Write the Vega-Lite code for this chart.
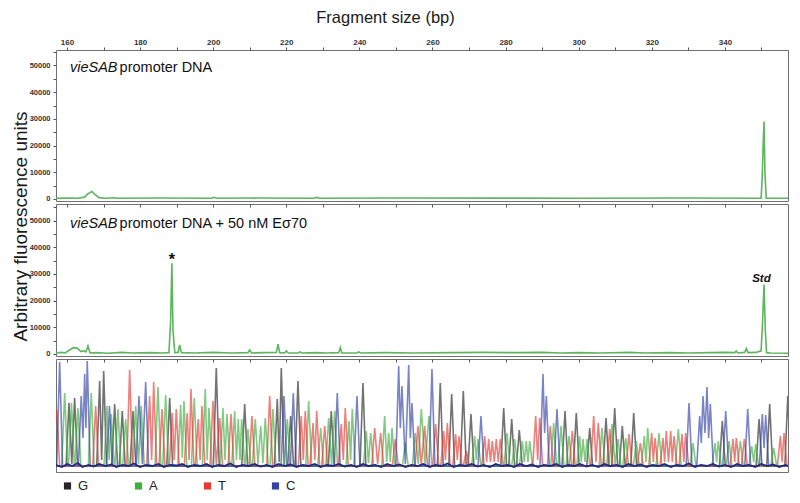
{
"$schema": "https://vega.github.io/schema/vega-lite/v6.json",
"padding": {"left": 10, "top": 8, "right": 5, "bottom": 5},
"background": "white",
"spacing": 3,
"bounds": "flush",
"config": {
  "font": "Liberation Sans",
  "view": {"stroke": "#707070", "strokeWidth": 1},
  "axis": {"domain": false, "grid": false, "tickColor": "#555", "tickSize": 3, "labelColor": "#333", "labelFont": "Liberation Sans Narrow, Liberation Sans", "labelFontWeight": "bold", "labelFontSize": 8, "titleFont": "Liberation Sans", "titleFontWeight": "normal", "titleColor": "#1a1a1a"}
},
"datasets": {
  "top": [
    {"x":157,"y":300},{"x":160,"y":350},{"x":163,"y":300},{"x":164.8,"y":700},{"x":165.8,"y":2000},{"x":166.8,"y":2800},{"x":167.8,"y":1500},{"x":168.8,"y":500},{"x":170.5,"y":300},{"x":173,"y":450},{"x":174,"y":300},{"x":185,"y":350},{"x":199.5,"y":300},{"x":200.2,"y":650},{"x":201,"y":300},{"x":210,"y":350},{"x":227.5,"y":300},{"x":228.3,"y":600},{"x":229.2,"y":300},{"x":250,"y":350},{"x":300,"y":300},{"x":330,"y":350},{"x":349.9,"y":300},{"x":350.2,"y":8000},{"x":350.45,"y":19500},{"x":350.7,"y":29000},{"x":350.95,"y":10000},{"x":351.3,"y":300},{"x":357.26,"y":300}
  ],
  "mid": [
    {"x":157,"y":400},{"x":158.5,"y":600},{"x":159.5,"y":400},{"x":160.7,"y":1500},{"x":161.8,"y":2400},{"x":162.8,"y":2200},{"x":163.8,"y":900},{"x":164.5,"y":1200},{"x":165.2,"y":800},{"x":165.75,"y":3000},{"x":166.3,"y":400},{"x":168,"y":500},{"x":171,"y":300},{"x":175,"y":600},{"x":178,"y":400},{"x":183,"y":500},{"x":186,"y":400},{"x":187.9,"y":500},{"x":188.35,"y":12000},{"x":188.7,"y":34000},{"x":189.0,"y":9000},{"x":189.5,"y":500},{"x":190.4,"y":600},{"x":190.83,"y":3400},{"x":191.3,"y":500},{"x":195,"y":400},{"x":200,"y":600},{"x":205,"y":400},{"x":209.5,"y":500},{"x":209.98,"y":1500},{"x":210.5,"y":400},{"x":214,"y":500},{"x":217.3,"y":600},{"x":217.73,"y":3700},{"x":218.2,"y":500},{"x":219.6,"y":400},{"x":220.0,"y":1200},{"x":220.5,"y":400},{"x":223.3,"y":400},{"x":223.7,"y":800},{"x":224.1,"y":400},{"x":228,"y":500},{"x":231,"y":400},{"x":234.35,"y":500},{"x":234.78,"y":2400},{"x":235.2,"y":400},{"x":239.4,"y":400},{"x":239.8,"y":800},{"x":240.3,"y":400},{"x":247,"y":500},{"x":255,"y":400},{"x":265,"y":500},{"x":274,"y":600},{"x":283,"y":500},{"x":290,"y":600},{"x":295,"y":400},{"x":300,"y":500},{"x":306,"y":400},{"x":314,"y":600},{"x":318,"y":400},{"x":325,"y":500},{"x":330,"y":400},{"x":336,"y":500},{"x":340,"y":600},{"x":342.7,"y":500},{"x":343.1,"y":1100},{"x":343.5,"y":400},{"x":345.4,"y":600},{"x":345.86,"y":2000},{"x":346.3,"y":500},{"x":348.5,"y":600},{"x":349.9,"y":1200},{"x":350.3,"y":12000},{"x":350.7,"y":26000},{"x":351.05,"y":9000},{"x":351.4,"y":500},{"x":352.5,"y":400},{"x":357.26,"y":300}
  ],
  "trace": [
    {"c":"G","x":157,"y":2},{"c":"G","x":159.75,"y":2},{"c":"G","x":160.55,"y":65},{"c":"G","x":161.33,"y":4},{"c":"G","x":162.1,"y":70},{"c":"G","x":162.9,"y":2},{"c":"G","x":168.14,"y":2},{"c":"G","x":168.94,"y":87},{"c":"G","x":169.49,"y":8},{"c":"G","x":170.04,"y":97},{"c":"G","x":170.84,"y":2},{"c":"G","x":172.25,"y":2},{"c":"G","x":173.05,"y":64},{"c":"G","x":173.85,"y":2},{"c":"G","x":174.33,"y":2},{"c":"G","x":175.13,"y":57},{"c":"G","x":175.93,"y":2},{"c":"G","x":177.26,"y":2},{"c":"G","x":178.06,"y":57},{"c":"G","x":178.86,"y":2},{"c":"G","x":187.3,"y":2},{"c":"G","x":188.1,"y":70},{"c":"G","x":188.9,"y":2},{"c":"G","x":200.05,"y":2},{"c":"G","x":200.85,"y":100},{"c":"G","x":201.65,"y":2},{"c":"G","x":207.82,"y":2},{"c":"G","x":208.62,"y":64},{"c":"G","x":209.42,"y":2},{"c":"G","x":216.74,"y":2},{"c":"G","x":217.54,"y":69},{"c":"G","x":218.08,"y":6},{"c":"G","x":218.63,"y":100},{"c":"G","x":219.43,"y":2},{"c":"G","x":220.4,"y":2},{"c":"G","x":221.2,"y":52},{"c":"G","x":222.0,"y":2},{"c":"G","x":222.4,"y":2},{"c":"G","x":223.2,"y":87},{"c":"G","x":224.0,"y":2},{"c":"G","x":231.51,"y":2},{"c":"G","x":232.31,"y":57},{"c":"G","x":233.11,"y":2},{"c":"G","x":240.18,"y":2},{"c":"G","x":240.98,"y":85},{"c":"G","x":241.78,"y":2},{"c":"G","x":261.33,"y":2},{"c":"G","x":262.13,"y":85},{"c":"G","x":262.93,"y":2},{"c":"G","x":264.45,"y":2},{"c":"G","x":265.25,"y":74},{"c":"G","x":266.05,"y":2},{"c":"G","x":267.63,"y":2},{"c":"G","x":268.43,"y":77},{"c":"G","x":269.23,"y":2},{"c":"G","x":269.73,"y":2},{"c":"G","x":270.53,"y":54},{"c":"G","x":271.33,"y":2},{"c":"G","x":278.68,"y":2},{"c":"G","x":279.48,"y":60},{"c":"G","x":280.28,"y":2},{"c":"G","x":280.87,"y":2},{"c":"G","x":281.67,"y":49},{"c":"G","x":282.47,"y":2},{"c":"G","x":282.95,"y":2},{"c":"G","x":283.75,"y":38},{"c":"G","x":284.55,"y":2},{"c":"G","x":295.45,"y":2},{"c":"G","x":296.25,"y":57},{"c":"G","x":297.05,"y":2},{"c":"G","x":298.54,"y":2},{"c":"G","x":299.34,"y":55},{"c":"G","x":300.14,"y":2},{"c":"G","x":302.21,"y":2},{"c":"G","x":303.01,"y":40},{"c":"G","x":303.81,"y":2},{"c":"G","x":306.67,"y":2},{"c":"G","x":307.47,"y":50},{"c":"G","x":308.27,"y":2},{"c":"G","x":309.05,"y":2},{"c":"G","x":309.85,"y":60},{"c":"G","x":310.65,"y":2},{"c":"G","x":311.13,"y":2},{"c":"G","x":311.93,"y":42},{"c":"G","x":312.73,"y":2},{"c":"G","x":314.25,"y":2},{"c":"G","x":315.05,"y":55},{"c":"G","x":315.85,"y":2},{"c":"G","x":338.49,"y":2},{"c":"G","x":339.29,"y":47},{"c":"G","x":340.09,"y":2},{"c":"G","x":348.54,"y":2},{"c":"G","x":349.34,"y":49},{"c":"G","x":350.14,"y":2},{"c":"G","x":351.45,"y":2},{"c":"G","x":352.25,"y":64},{"c":"G","x":353.05,"y":2},{"c":"G","x":356.4,"y":2},{"c":"G","x":357.2,"y":72},{"c":"G","x":358,"y":2},
    {"c":"A","x":157,"y":2},{"c":"A","x":158.57,"y":2},{"c":"A","x":159.37,"y":75},{"c":"A","x":160.17,"y":2},{"c":"A","x":160.43,"y":2},{"c":"A","x":161.23,"y":65},{"c":"A","x":162.03,"y":2},{"c":"A","x":162.21,"y":2},{"c":"A","x":163.01,"y":60},{"c":"A","x":163.81,"y":2},{"c":"A","x":165.85,"y":2},{"c":"A","x":166.65,"y":75},{"c":"A","x":167.45,"y":2},{"c":"A","x":170.14,"y":2},{"c":"A","x":170.94,"y":62},{"c":"A","x":171.53,"y":8},{"c":"A","x":172.12,"y":54},{"c":"A","x":172.92,"y":2},{"c":"A","x":173.15,"y":2},{"c":"A","x":173.95,"y":59},{"c":"A","x":174.75,"y":2},{"c":"A","x":175.26,"y":2},{"c":"A","x":176.06,"y":49},{"c":"A","x":176.86,"y":2},{"c":"A","x":178.0,"y":2},{"c":"A","x":178.8,"y":62},{"c":"A","x":179.57,"y":4},{"c":"A","x":180.33,"y":62},{"c":"A","x":181.13,"y":2},{"c":"A","x":184.1,"y":2},{"c":"A","x":184.9,"y":81},{"c":"A","x":185.7,"y":2},{"c":"A","x":186.2,"y":2},{"c":"A","x":187.0,"y":73},{"c":"A","x":187.8,"y":2},{"c":"A","x":190.31,"y":2},{"c":"A","x":191.11,"y":63},{"c":"A","x":191.56,"y":10},{"c":"A","x":192.01,"y":67},{"c":"A","x":192.81,"y":2},{"c":"A","x":194.03,"y":2},{"c":"A","x":194.83,"y":70},{"c":"A","x":195.63,"y":2},{"c":"A","x":197.04,"y":2},{"c":"A","x":197.84,"y":79},{"c":"A","x":198.35,"y":8},{"c":"A","x":198.85,"y":60},{"c":"A","x":199.65,"y":2},{"c":"A","x":201.88,"y":2},{"c":"A","x":202.68,"y":60},{"c":"A","x":203.22,"y":8},{"c":"A","x":203.77,"y":54},{"c":"A","x":204.57,"y":2},{"c":"A","x":205.08,"y":2},{"c":"A","x":205.88,"y":57},{"c":"A","x":206.37,"y":8},{"c":"A","x":206.87,"y":49},{"c":"A","x":207.33,"y":8},{"c":"A","x":207.8,"y":49},{"c":"A","x":208.6,"y":2},{"c":"A","x":208.72,"y":2},{"c":"A","x":209.52,"y":39},{"c":"A","x":210.32,"y":2},{"c":"A","x":210.72,"y":2},{"c":"A","x":211.52,"y":49},{"c":"A","x":212.26,"y":4},{"c":"A","x":213.0,"y":42},{"c":"A","x":213.62,"y":5},{"c":"A","x":214.25,"y":50},{"c":"A","x":215.05,"y":2},{"c":"A","x":215.56,"y":2},{"c":"A","x":216.36,"y":59},{"c":"A","x":217.16,"y":2},{"c":"A","x":219.47,"y":2},{"c":"A","x":220.27,"y":49},{"c":"A","x":221.07,"y":2},{"c":"A","x":225.33,"y":2},{"c":"A","x":226.13,"y":67},{"c":"A","x":226.93,"y":2},{"c":"A","x":228.61,"y":2},{"c":"A","x":229.41,"y":40},{"c":"A","x":230.21,"y":2},{"c":"A","x":230.8,"y":2},{"c":"A","x":231.6,"y":50},{"c":"A","x":232.42,"y":3},{"c":"A","x":233.24,"y":57},{"c":"A","x":234.04,"y":2},{"c":"A","x":236.35,"y":2},{"c":"A","x":237.15,"y":47},{"c":"A","x":237.6,"y":8},{"c":"A","x":238.06,"y":59},{"c":"A","x":238.86,"y":2},{"c":"A","x":241.09,"y":2},{"c":"A","x":241.89,"y":37},{"c":"A","x":242.49,"y":5},{"c":"A","x":243.09,"y":35},{"c":"A","x":243.89,"y":2},{"c":"A","x":246.12,"y":2},{"c":"A","x":246.92,"y":52},{"c":"A","x":247.47,"y":6},{"c":"A","x":248.01,"y":35},{"c":"A","x":248.47,"y":6},{"c":"A","x":248.92,"y":40},{"c":"A","x":249.72,"y":2},{"c":"A","x":251.76,"y":2},{"c":"A","x":252.56,"y":25},{"c":"A","x":253.36,"y":2},{"c":"A","x":254.49,"y":2},{"c":"A","x":255.29,"y":35},{"c":"A","x":256.12,"y":4},{"c":"A","x":256.94,"y":59},{"c":"A","x":257.99,"y":4},{"c":"A","x":259.04,"y":52},{"c":"A","x":259.84,"y":2},{"c":"A","x":270.74,"y":2},{"c":"A","x":271.54,"y":32},{"c":"A","x":272.0,"y":8},{"c":"A","x":272.45,"y":29},{"c":"A","x":273.25,"y":2},{"c":"A","x":279.58,"y":2},{"c":"A","x":280.38,"y":35},{"c":"A","x":281.18,"y":2},{"c":"A","x":281.69,"y":2},{"c":"A","x":282.49,"y":29},{"c":"A","x":283.29,"y":2},{"c":"A","x":283.77,"y":2},{"c":"A","x":284.57,"y":27},{"c":"A","x":285.12,"y":6},{"c":"A","x":285.67,"y":27},{"c":"A","x":286.13,"y":6},{"c":"A","x":286.59,"y":27},{"c":"A","x":287.39,"y":2},{"c":"A","x":292.36,"y":2},{"c":"A","x":293.16,"y":45},{"c":"A","x":293.96,"y":2},{"c":"A","x":294.36,"y":2},{"c":"A","x":295.16,"y":42},{"c":"A","x":295.96,"y":2},{"c":"A","x":296.55,"y":2},{"c":"A","x":297.35,"y":32},{"c":"A","x":298.15,"y":2},{"c":"A","x":299.47,"y":2},{"c":"A","x":300.27,"y":32},{"c":"A","x":300.72,"y":6},{"c":"A","x":301.18,"y":29},{"c":"A","x":301.72,"y":6},{"c":"A","x":302.27,"y":29},{"c":"A","x":303.07,"y":2},{"c":"A","x":305.57,"y":2},{"c":"A","x":306.37,"y":40},{"c":"A","x":307.17,"y":2},{"c":"A","x":308.31,"y":2},{"c":"A","x":309.11,"y":44},{"c":"A","x":309.93,"y":4},{"c":"A","x":310.75,"y":29},{"c":"A","x":311.55,"y":2},{"c":"A","x":312.06,"y":2},{"c":"A","x":312.86,"y":30},{"c":"A","x":313.66,"y":2},{"c":"A","x":314.96,"y":2},{"c":"A","x":315.76,"y":27},{"c":"A","x":316.56,"y":2},{"c":"A","x":317.15,"y":2},{"c":"A","x":317.95,"y":32},{"c":"A","x":318.41,"y":6},{"c":"A","x":318.87,"y":40},{"c":"A","x":319.67,"y":2},{"c":"A","x":321.17,"y":2},{"c":"A","x":321.97,"y":35},{"c":"A","x":322.77,"y":2},{"c":"A","x":326.45,"y":2},{"c":"A","x":327.25,"y":39},{"c":"A","x":328.05,"y":2},{"c":"A","x":330.47,"y":2},{"c":"A","x":331.27,"y":25},{"c":"A","x":332.07,"y":2},{"c":"A","x":336.49,"y":2},{"c":"A","x":337.29,"y":25},{"c":"A","x":337.74,"y":6},{"c":"A","x":338.19,"y":27},{"c":"A","x":338.99,"y":2},{"c":"A","x":340.32,"y":2},{"c":"A","x":341.12,"y":27},{"c":"A","x":341.92,"y":2},{"c":"A","x":343.41,"y":2},{"c":"A","x":344.21,"y":27},{"c":"A","x":345.01,"y":2},{"c":"A","x":346.53,"y":2},{"c":"A","x":347.33,"y":22},{"c":"A","x":347.88,"y":6},{"c":"A","x":348.43,"y":24},{"c":"A","x":349.23,"y":2},{"c":"A","x":352.55,"y":2},{"c":"A","x":353.35,"y":20},{"c":"A","x":354.15,"y":2},{"c":"A","x":357.3,"y":2},
    {"c":"T","x":157,"y":50},{"c":"T","x":157.2,"y":58},{"c":"T","x":158.0,"y":2},{"c":"T","x":167.05,"y":2},{"c":"T","x":167.85,"y":62},{"c":"T","x":168.65,"y":2},{"c":"T","x":176.35,"y":2},{"c":"T","x":177.15,"y":98},{"c":"T","x":177.95,"y":2},{"c":"T","x":181.82,"y":2},{"c":"T","x":182.62,"y":72},{"c":"T","x":183.17,"y":8},{"c":"T","x":183.72,"y":86},{"c":"T","x":184.52,"y":2},{"c":"T","x":185.2,"y":2},{"c":"T","x":186.0,"y":59},{"c":"T","x":186.8,"y":2},{"c":"T","x":188.01,"y":2},{"c":"T","x":188.81,"y":55},{"c":"T","x":189.35,"y":8},{"c":"T","x":189.9,"y":59},{"c":"T","x":190.7,"y":2},{"c":"T","x":192.11,"y":2},{"c":"T","x":192.91,"y":55},{"c":"T","x":193.42,"y":8},{"c":"T","x":193.92,"y":79},{"c":"T","x":194.72,"y":2},{"c":"T","x":195.12,"y":2},{"c":"T","x":195.92,"y":49},{"c":"T","x":196.42,"y":8},{"c":"T","x":196.93,"y":62},{"c":"T","x":197.73,"y":2},{"c":"T","x":199.14,"y":2},{"c":"T","x":199.94,"y":67},{"c":"T","x":200.86,"y":3},{"c":"T","x":201.78,"y":50},{"c":"T","x":202.58,"y":2},{"c":"T","x":204.07,"y":2},{"c":"T","x":204.87,"y":54},{"c":"T","x":205.67,"y":2},{"c":"T","x":209.81,"y":2},{"c":"T","x":210.61,"y":52},{"c":"T","x":211.41,"y":2},{"c":"T","x":214.66,"y":2},{"c":"T","x":215.46,"y":72},{"c":"T","x":216.26,"y":2},{"c":"T","x":223.3,"y":2},{"c":"T","x":224.1,"y":52},{"c":"T","x":224.65,"y":8},{"c":"T","x":225.2,"y":57},{"c":"T","x":226.0,"y":2},{"c":"T","x":226.5,"y":2},{"c":"T","x":227.3,"y":45},{"c":"T","x":227.81,"y":8},{"c":"T","x":228.32,"y":57},{"c":"T","x":229.12,"y":2},{"c":"T","x":229.71,"y":2},{"c":"T","x":230.51,"y":42},{"c":"T","x":231.31,"y":2},{"c":"T","x":234.25,"y":2},{"c":"T","x":235.05,"y":44},{"c":"T","x":235.6,"y":8},{"c":"T","x":236.14,"y":60},{"c":"T","x":236.94,"y":2},{"c":"T","x":243.38,"y":2},{"c":"T","x":244.18,"y":40},{"c":"T","x":245.0,"y":4},{"c":"T","x":245.82,"y":35},{"c":"T","x":246.62,"y":2},{"c":"T","x":249.02,"y":2},{"c":"T","x":249.82,"y":29},{"c":"T","x":250.62,"y":2},{"c":"T","x":255.23,"y":2},{"c":"T","x":256.03,"y":42},{"c":"T","x":256.95,"y":3},{"c":"T","x":257.86,"y":42},{"c":"T","x":258.66,"y":2},{"c":"T","x":260.07,"y":2},{"c":"T","x":260.87,"y":44},{"c":"T","x":261.67,"y":2},{"c":"T","x":262.26,"y":2},{"c":"T","x":263.06,"y":37},{"c":"T","x":263.55,"y":8},{"c":"T","x":264.05,"y":45},{"c":"T","x":264.85,"y":2},{"c":"T","x":265.55,"y":2},{"c":"T","x":266.35,"y":34},{"c":"T","x":266.8,"y":8},{"c":"T","x":267.25,"y":32},{"c":"T","x":268.05,"y":2},{"c":"T","x":268.45,"y":2},{"c":"T","x":269.25,"y":17},{"c":"T","x":270.05,"y":2},{"c":"T","x":273.48,"y":2},{"c":"T","x":274.28,"y":32},{"c":"T","x":274.82,"y":6},{"c":"T","x":275.37,"y":29},{"c":"T","x":275.86,"y":6},{"c":"T","x":276.36,"y":27},{"c":"T","x":276.91,"y":6},{"c":"T","x":277.46,"y":29},{"c":"T","x":278.0,"y":6},{"c":"T","x":278.55,"y":29},{"c":"T","x":279.35,"y":2},{"c":"T","x":287.43,"y":2},{"c":"T","x":288.23,"y":52},{"c":"T","x":288.78,"y":8},{"c":"T","x":289.33,"y":50},{"c":"T","x":290.13,"y":2},{"c":"T","x":291.43,"y":2},{"c":"T","x":292.23,"y":42},{"c":"T","x":293.03,"y":2},{"c":"T","x":297.45,"y":2},{"c":"T","x":298.25,"y":37},{"c":"T","x":299.05,"y":2},{"c":"T","x":303.3,"y":2},{"c":"T","x":304.1,"y":52},{"c":"T","x":304.73,"y":6},{"c":"T","x":305.36,"y":45},{"c":"T","x":306.16,"y":2},{"c":"T","x":307.68,"y":2},{"c":"T","x":308.48,"y":39},{"c":"T","x":309.28,"y":2},{"c":"T","x":312.96,"y":2},{"c":"T","x":313.76,"y":34},{"c":"T","x":314.56,"y":2},{"c":"T","x":316.05,"y":2},{"c":"T","x":316.85,"y":25},{"c":"T","x":317.65,"y":2},{"c":"T","x":319.17,"y":2},{"c":"T","x":319.97,"y":35},{"c":"T","x":320.42,"y":6},{"c":"T","x":320.88,"y":30},{"c":"T","x":321.68,"y":2},{"c":"T","x":322.26,"y":2},{"c":"T","x":323.06,"y":30},{"c":"T","x":323.5,"y":6},{"c":"T","x":323.97,"y":37},{"c":"T","x":324.57,"y":6},{"c":"T","x":325.17,"y":37},{"c":"T","x":325.62,"y":6},{"c":"T","x":326.07,"y":32},{"c":"T","x":326.87,"y":2},{"c":"T","x":327.46,"y":2},{"c":"T","x":328.26,"y":34},{"c":"T","x":328.76,"y":6},{"c":"T","x":329.27,"y":35},{"c":"T","x":330.07,"y":2},{"c":"T","x":341.42,"y":2},{"c":"T","x":342.22,"y":29},{"c":"T","x":342.67,"y":6},{"c":"T","x":343.12,"y":30},{"c":"T","x":343.92,"y":2},{"c":"T","x":344.51,"y":2},{"c":"T","x":345.31,"y":29},{"c":"T","x":346.11,"y":2},{"c":"T","x":354.36,"y":2},{"c":"T","x":355.16,"y":32},{"c":"T","x":355.66,"y":6},{"c":"T","x":356.17,"y":35},{"c":"T","x":356.97,"y":2},{"c":"T","x":357.3,"y":2},
    {"c":"C","x":157,"y":2},{"c":"C","x":157.2,"y":2},{"c":"C","x":158.0,"y":106},{"c":"C","x":158.8,"y":2},{"c":"C","x":163.11,"y":2},{"c":"C","x":163.91,"y":72},{"c":"C","x":164.38,"y":30},{"c":"C","x":164.84,"y":94},{"c":"C","x":165.2,"y":40},{"c":"C","x":165.55,"y":107},{"c":"C","x":166.35,"y":2},{"c":"C","x":170.83,"y":2},{"c":"C","x":171.63,"y":62},{"c":"C","x":172.43,"y":2},{"c":"C","x":178.9,"y":2},{"c":"C","x":179.7,"y":72},{"c":"C","x":180.62,"y":4},{"c":"C","x":181.53,"y":86},{"c":"C","x":182.33,"y":2},{"c":"C","x":218.57,"y":2},{"c":"C","x":219.37,"y":72},{"c":"C","x":220.17,"y":2},{"c":"C","x":221.12,"y":2},{"c":"C","x":221.92,"y":75},{"c":"C","x":222.72,"y":2},{"c":"C","x":233.15,"y":2},{"c":"C","x":233.95,"y":75},{"c":"C","x":234.75,"y":2},{"c":"C","x":238.54,"y":2},{"c":"C","x":239.34,"y":72},{"c":"C","x":240.14,"y":2},{"c":"C","x":249.95,"y":2},{"c":"C","x":250.75,"y":102},{"c":"C","x":251.2,"y":40},{"c":"C","x":251.65,"y":82},{"c":"C","x":252.57,"y":4},{"c":"C","x":253.49,"y":103},{"c":"C","x":253.94,"y":30},{"c":"C","x":254.39,"y":65},{"c":"C","x":255.19,"y":2},{"c":"C","x":259.06,"y":2},{"c":"C","x":259.86,"y":99},{"c":"C","x":260.66,"y":2},{"c":"C","x":272.47,"y":2},{"c":"C","x":273.27,"y":52},{"c":"C","x":274.07,"y":2},{"c":"C","x":289.43,"y":2},{"c":"C","x":290.23,"y":94},{"c":"C","x":290.68,"y":35},{"c":"C","x":291.14,"y":72},{"c":"C","x":291.94,"y":2},{"c":"C","x":293.26,"y":2},{"c":"C","x":294.06,"y":59},{"c":"C","x":294.86,"y":2},{"c":"C","x":329.38,"y":2},{"c":"C","x":330.18,"y":65},{"c":"C","x":330.98,"y":2},{"c":"C","x":332.3,"y":2},{"c":"C","x":333.1,"y":52},{"c":"C","x":333.55,"y":25},{"c":"C","x":334.01,"y":72},{"c":"C","x":334.55,"y":35},{"c":"C","x":335.1,"y":81},{"c":"C","x":335.55,"y":30},{"c":"C","x":336.01,"y":64},{"c":"C","x":336.81,"y":2},{"c":"C","x":339.42,"y":2},{"c":"C","x":340.22,"y":57},{"c":"C","x":341.02,"y":2},{"c":"C","x":345.44,"y":2},{"c":"C","x":346.24,"y":59},{"c":"C","x":347.04,"y":2},{"c":"C","x":349.43,"y":2},{"c":"C","x":350.23,"y":54},{"c":"C","x":350.7,"y":20},{"c":"C","x":351.16,"y":53},{"c":"C","x":351.96,"y":2},{"c":"C","x":357.3,"y":2}
  ],
  "noise": [
    {"x":157,"y":3},{"x":158.6,"y":1},{"x":160.1,"y":4},{"x":161.4,"y":2},{"x":163,"y":5},{"x":164.2,"y":1},{"x":165.9,"y":3},{"x":167.3,"y":1.5},{"x":168.8,"y":4},{"x":170.6,"y":2},{"x":172.1,"y":3.5},{"x":173.5,"y":1},{"x":175.2,"y":3},{"x":176.9,"y":2},{"x":178.3,"y":4.5},{"x":180,"y":1},{"x":181.6,"y":3},{"x":183.4,"y":2},{"x":185,"y":4},{"x":186.5,"y":1},{"x":188.2,"y":3},{"x":190,"y":2.5},{"x":191.5,"y":4},{"x":193.1,"y":1},{"x":194.8,"y":3},{"x":196.6,"y":2},{"x":198.2,"y":4},{"x":199.7,"y":1},{"x":201.4,"y":3},{"x":203,"y":2},{"x":204.7,"y":4.5},{"x":206.3,"y":1},{"x":208,"y":3},{"x":209.6,"y":2},{"x":211.3,"y":4},{"x":213,"y":1.5},{"x":214.6,"y":3},{"x":216.2,"y":1},{"x":217.9,"y":4},{"x":219.5,"y":2},{"x":221.2,"y":3.5},{"x":222.8,"y":1},{"x":224.5,"y":3},{"x":226.1,"y":2},{"x":227.8,"y":4},{"x":229.4,"y":1},{"x":231.1,"y":3},{"x":232.7,"y":2},{"x":234.4,"y":4},{"x":236,"y":1.5},{"x":237.7,"y":3},{"x":239.3,"y":1},{"x":241,"y":4},{"x":242.6,"y":2},{"x":244.3,"y":3},{"x":246,"y":1},{"x":247.6,"y":4},{"x":249.3,"y":2},{"x":250.9,"y":3.5},{"x":252.6,"y":1},{"x":254.2,"y":3},{"x":255.9,"y":2},{"x":257.5,"y":4},{"x":259.2,"y":1},{"x":260.8,"y":3},{"x":262.5,"y":2},{"x":264.1,"y":4.5},{"x":265.8,"y":1},{"x":267.4,"y":3},{"x":269.1,"y":2},{"x":270.7,"y":4},{"x":272.4,"y":1.5},{"x":274,"y":3},{"x":275.7,"y":1},{"x":277.3,"y":4},{"x":279,"y":2},{"x":280.6,"y":3},{"x":282.3,"y":1},{"x":283.9,"y":4},{"x":285.6,"y":2},{"x":287.2,"y":3.5},{"x":288.9,"y":1},{"x":290.5,"y":3},{"x":292.2,"y":2},{"x":293.8,"y":4},{"x":295.5,"y":1},{"x":297.1,"y":3},{"x":298.8,"y":2},{"x":300.4,"y":4},{"x":302.1,"y":1.5},{"x":303.7,"y":3},{"x":305.4,"y":1},{"x":307,"y":4},{"x":308.7,"y":2},{"x":310.3,"y":3},{"x":312,"y":1},{"x":313.6,"y":4},{"x":315.3,"y":2},{"x":316.9,"y":3.5},{"x":318.6,"y":1},{"x":320.2,"y":3},{"x":321.9,"y":2},{"x":323.5,"y":4},{"x":325.2,"y":1},{"x":326.8,"y":3},{"x":328.5,"y":2},{"x":330.1,"y":4.5},{"x":331.8,"y":1},{"x":333.4,"y":3},{"x":335.1,"y":2},{"x":336.7,"y":4},{"x":338.4,"y":1.5},{"x":340,"y":3},{"x":341.7,"y":1},{"x":343.3,"y":4},{"x":345,"y":2},{"x":346.6,"y":3},{"x":348.3,"y":1},{"x":349.9,"y":4},{"x":351.6,"y":2},{"x":353.2,"y":3.5},{"x":354.9,"y":1},{"x":356.5,"y":3},{"x":357.26,"y":2}
  ]
},
"vconcat": [
  {
    "width": 732, "height": 151,
    "encoding": {
      "x": {"field": "x", "type": "quantitative", "scale": {"domain": [157, 357.26], "nice": false, "zero": false},
        "axis": {"orient": "top", "title": "Fragment size (bp)", "titleFontSize": 16.5, "titlePadding": 13, "titleX": 329, "labelPadding": 1,
          "values": [160,170,180,190,200,210,220,230,240,250,260,270,280,290,300,310,320,330,340,350],
          "labelExpr": "datum.value % 20 === 0 ? datum.label : ''"}},
      "y": {"field": "y", "type": "quantitative", "scale": {"domain": [-750, 55800], "nice": false, "zero": false},
        "axis": {"title": null, "format": "d", "labelFontSize": 7.5, "labelPadding": 3,
          "values": [0,5000,10000,15000,20000,25000,30000,35000,40000,45000,50000,55000],
          "labelExpr": "datum.value % 10000 === 0 ? datum.label : ''"}}
    },
    "layer": [
      {"data": {"name": "top"}, "mark": {"type": "line", "color": "#5db55d", "strokeWidth": 1.6, "clip": true}},
      {"data": {"values": [{"x": 160.82, "y": 47700, "t": "vieSAB"}]},
       "mark": {"type": "text", "align": "left", "baseline": "alphabetic", "fontStyle": "italic", "fontSize": 14.5, "color": "#111"},
       "encoding": {"text": {"field": "t"}}},
      {"data": {"values": [{"x": 174.4, "y": 47700, "t": "promoter DNA"}]},
       "mark": {"type": "text", "align": "left", "baseline": "alphabetic", "fontSize": 14.5, "color": "#111"},
       "encoding": {"text": {"field": "t"}}}
    ]
  },
  {
    "width": 732, "height": 152,
    "encoding": {
      "x": {"field": "x", "type": "quantitative", "scale": {"domain": [157, 357.26], "nice": false, "zero": false},
        "axis": {"orient": "top", "title": null, "labels": false, "tickSize": -3,
          "values": [160,170,180,190,200,210,220,230,240,250,260,270,280,290,300,310,320,330,340,350]}},
      "y": {"field": "y", "type": "quantitative", "scale": {"domain": [-750, 56200], "nice": false, "zero": false},
        "axis": {"title": "Arbitrary fluorescence units", "titleFontSize": 19, "titleX": -30, "titleY": 22, "titleBaseline": "alphabetic", "titleAngle": 270,
          "format": "d", "labelFontSize": 7.5, "labelPadding": 3,
          "values": [0,5000,10000,15000,20000,25000,30000,35000,40000,45000,50000,55000],
          "labelExpr": "datum.value % 10000 === 0 ? datum.label : ''"}}
    },
    "layer": [
      {"data": {"name": "mid"}, "mark": {"type": "line", "color": "#5db55d", "strokeWidth": 1.6, "clip": true}},
      {"data": {"values": [{"x": 160.82, "y": 47200, "t": "vieSAB"}]},
       "mark": {"type": "text", "align": "left", "baseline": "alphabetic", "fontStyle": "italic", "fontSize": 14.5, "color": "#111"},
       "encoding": {"text": {"field": "t"}}},
      {"data": {"values": [{"x": 174.4, "y": 47200, "t": "promoter DNA + 50 nM Eσ70"}]},
       "mark": {"type": "text", "align": "left", "baseline": "alphabetic", "fontSize": 14.5, "color": "#111"},
       "encoding": {"text": {"field": "t"}}},
      {"data": {"values": [{"x": 188.7, "y": 33300, "t": "*"}]},
       "mark": {"type": "text", "align": "center", "baseline": "alphabetic", "fontSize": 16, "fontWeight": "bold", "color": "#111"},
       "encoding": {"text": {"field": "t"}}},
      {"data": {"values": [{"x": 350.0, "y": 27000, "t": "Std"}]},
       "mark": {"type": "text", "align": "center", "baseline": "alphabetic", "fontSize": 11.5, "fontWeight": "bold", "fontStyle": "italic", "color": "#111"},
       "encoding": {"text": {"field": "t"}}}
    ]
  },
  {
    "width": 732, "height": 113,
    "encoding": {
      "x": {"field": "x", "type": "quantitative", "scale": {"domain": [157, 357.26], "nice": false, "zero": false},
        "axis": {"orient": "top", "title": null, "labels": false, "tickSize": -3,
          "values": [160,170,180,190,200,210,220,230,240,250,260,270,280,290,300,310,320,330,340,350]}},
      "y": {"field": "y", "type": "quantitative", "scale": {"domain": [-4, 109], "nice": false, "zero": false}, "axis": null}
    },
    "layer": [
      {"data": {"name": "trace"},
       "mark": {"type": "line", "strokeWidth": 1.6, "strokeOpacity": 0.65, "clip": true},
       "encoding": {"color": {"field": "c", "type": "nominal",
         "scale": {"domain": ["G", "A", "T", "C"], "range": ["#262626", "#3fae3f", "#e53a33", "#3342a4"]},
         "legend": {"title": null, "orient": "none", "legendX": 5, "legendY": 429, "direction": "horizontal",
           "symbolType": "square", "symbolSize": 10, "symbolStrokeWidth": 4, "symbolOpacity": 1,
           "labelFontSize": 13, "labelFont": "Liberation Sans", "labelColor": "#222", "labelOffset": 4, "columnPadding": 39}}}},
      {"data": {"name": "noise"}, "mark": {"type": "line", "color": "#1f2a80", "strokeWidth": 1.8, "clip": true}}
    ]
  }
]
}
